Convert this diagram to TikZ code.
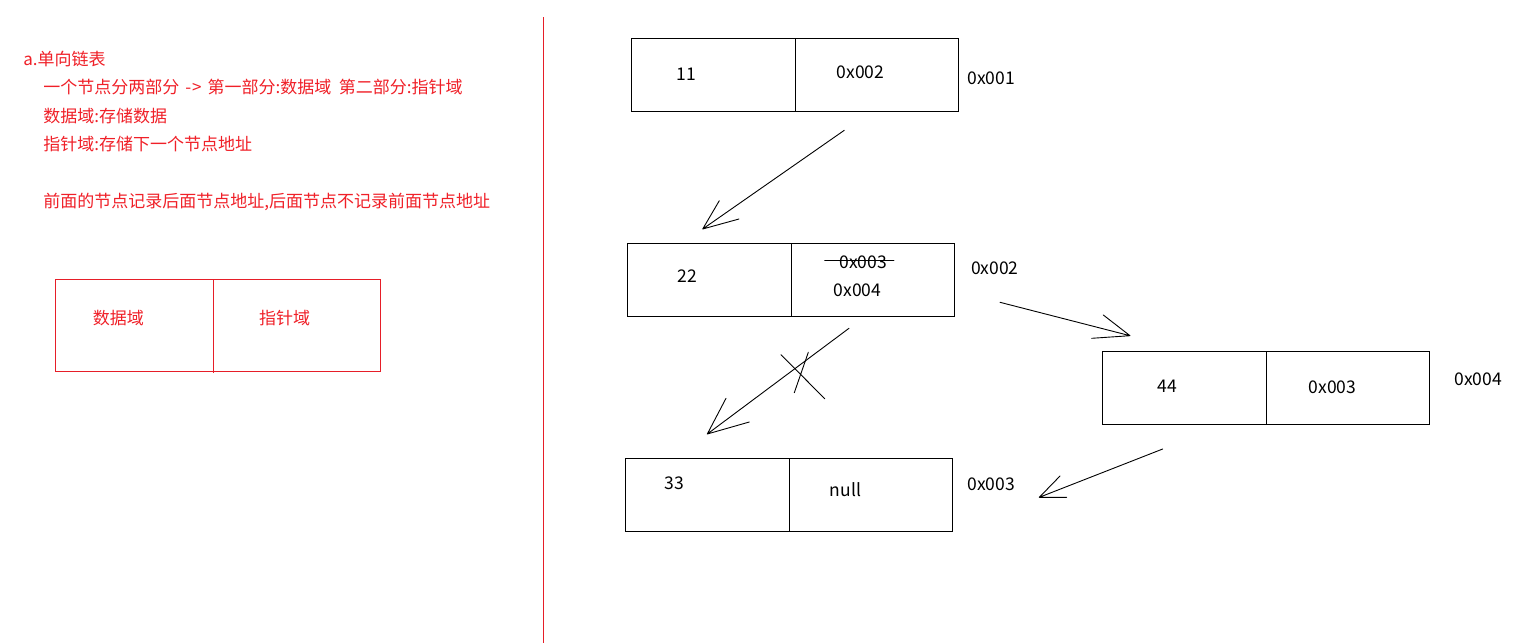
\documentclass[tikz,border=0pt]{standalone}
\usepackage{fontspec}
\newfontfamily\cjk{Noto Sans CJK SC}
\definecolor{redtxt}{RGB}{240,32,40}
\definecolor{redline}{RGB}{230,30,40}
\begin{document}
\begin{tikzpicture}[x=1pt,y=-1pt,
  every node/.style={inner sep=0pt,outer sep=0pt},
  note/.style={font=\cjk\fontsize{17}{19}\selectfont,text=redtxt,anchor=west},
  val/.style={font=\cjk\fontsize{17.5}{20}\selectfont,anchor=base},
  cell/.style={draw=black,line width=1pt},
  redcell/.style={draw=redline,line width=1pt},
  pen/.style={draw=black,line width=0.9pt,line cap=round}]
\useasboundingbox[fill=white] (0,0) rectangle (1524,643);

% left notes
\node[note] (t1) at (23.3,59) {a.单向链表};
\node[note] (t2) at (43.3,87.5) {一个节点分两部分\hspace{6pt}-\hspace{1pt}>\hspace{6pt}第一部分:数据域\ \ 第二部分:指针域};
\node[note] (t3) at (43.3,115.7) {数据域:存储数据};
\node[note] (t4) at (43.3,144.5) {指针域:存储下一个节点地址};
\node[note] (t5) at (43.3,201.5) {前面的节点记录后面节点地址,后面节点不记录前面节点地址};

% red sample node
\draw[redcell] (55.3,279.3) rectangle (380.3,371);
\draw[redcell] (213,279.3) -- (213,372.7);
\node[note,anchor=center] (d1) at (118.3,318.3) {数据域};
\node[note,anchor=center] (d2) at (284.5,318.3) {指针域};

% separator
\draw[draw=redline,line width=1pt] (543.3,17) -- (543.3,643);

% node 11 (0x001)
\draw[cell] (631.3,38.3) rectangle (958.7,111);
\draw[cell] (795.3,38.3) -- (795.3,111);
\node[val] (v11) at (686,80) {11};
\node[val] (p11) at (860.5,78.3) {0x002};
\node[val] (a11) at (991.3,84.3) {0x001};

% node 22 (0x002)
\draw[cell] (627.3,243.3) rectangle (954.3,316.3);
\draw[cell] (791.3,243.3) -- (791.3,316.3);
\node[val] (v22) at (687,282.3) {22};
\node[val] (p22old) at (863.3,268.3) {0x003};
\coordinate (s1) at (824.7,260);
\coordinate (s2) at (894,260);
\draw[pen] (s1) -- (s2);
\node[val] (p22) at (857.5,296.7) {0x004};
\node[val] (a22) at (994.8,274.3) {0x002};

% node 44 (0x004)
\draw[cell] (1102.3,351.3) rectangle (1429.3,424);
\draw[cell] (1266.3,351.3) -- (1266.3,424);
\node[val] (v44) at (1167,392.3) {44};
\node[val] (p44) at (1332.5,393.3) {0x003};
\node[val] (a44) at (1478.3,385) {0x004};

% node 33 (0x003)
\draw[cell] (625.3,458.3) rectangle (952.7,531);
\draw[cell] (789.3,458.3) -- (789.3,531);
\node[val] (v33) at (674.2,489) {33};
\node[val] (p33) at (845.5,496.7) {null};
\node[val] (a33) at (991.3,490.7) {0x003};

% arrow 1: 11 -> 22
\coordinate (a1s) at (844.3,130.3);
\coordinate (a1t) at (702.7,229);
\coordinate (a1h1) at (719.3,200.7);
\coordinate (a1h2) at (739,219);
\draw[pen] (a1s) -- (a1t) (a1t) -- (a1h1) (a1t) -- (a1h2);

% arrow 2: 22 -> 33 (crossed out)
\coordinate (a2s) at (849,328.3);
\coordinate (a2t) at (707.3,434);
\coordinate (a2h1) at (726,398.3);
\coordinate (a2h2) at (749.3,422);
\draw[pen] (a2s) -- (a2t) (a2t) -- (a2h1) (a2t) -- (a2h2);
\coordinate (x1a) at (781,354.7);
\coordinate (x1b) at (824.7,398.7);
\coordinate (x2a) at (808.3,352.3);
\coordinate (x2b) at (794.3,392.7);
\draw[pen] (x1a) -- (x1b) (x2a) -- (x2b);

% arrow 3: 22 -> 44
\coordinate (a3s) at (1000,302.3);
\coordinate (a3t) at (1130,335.7);
\coordinate (a3h1) at (1103.3,315);
\coordinate (a3h2) at (1091.7,338.3);
\draw[pen] (a3s) -- (a3t) (a3t) -- (a3h1) (a3t) -- (a3h2);

% arrow 4: 44 -> 33
\coordinate (a4s) at (1162.7,449);
\coordinate (a4t) at (1039.3,497.3);
\coordinate (a4h1) at (1060,476);
\coordinate (a4h2) at (1066.7,497.3);
\draw[pen] (a4s) -- (a4t) (a4t) -- (a4h1) (a4t) -- (a4h2);
\end{tikzpicture}
\end{document}
